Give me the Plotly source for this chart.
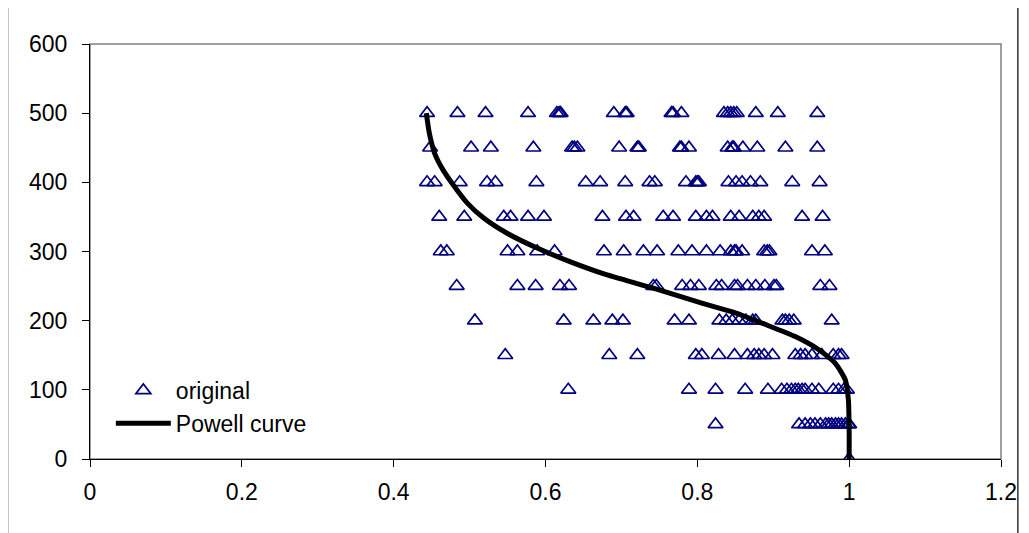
import plotly.graph_objects as go

# Observed points: one list of x-values per depth level (y)
levels = [500, 450, 400, 350, 300, 250, 200, 150, 100, 50, 0]
x_500 = [0.444, 0.484, 0.521, 0.577, 0.615, 0.618, 0.620, 0.690, 0.705, 0.707, 0.766, 0.768, 0.779,
         0.835, 0.840, 0.844, 0.848, 0.852, 0.877, 0.906, 0.958]
x_450 = [0.448, 0.502, 0.528, 0.584, 0.635, 0.638, 0.642, 0.697, 0.721, 0.723, 0.777, 0.779, 0.789,
         0.840, 0.846, 0.848, 0.860, 0.879, 0.916, 0.958]
x_400 = [0.444, 0.454, 0.487, 0.523, 0.534, 0.588, 0.653, 0.672, 0.705, 0.737, 0.744, 0.785, 0.798,
         0.800, 0.802, 0.841, 0.851, 0.859, 0.870, 0.883, 0.925, 0.961]
x_350 = [0.460, 0.493, 0.545, 0.554, 0.577, 0.598, 0.675, 0.706, 0.716, 0.755, 0.768, 0.798, 0.812,
         0.820, 0.844, 0.855, 0.873, 0.881, 0.888, 0.938, 0.965]
x_300 = [0.462, 0.470, 0.550, 0.563, 0.589, 0.612, 0.677, 0.703, 0.729, 0.747, 0.775, 0.793, 0.812,
         0.830, 0.844, 0.849, 0.851, 0.859, 0.888, 0.892, 0.895, 0.951, 0.968]
x_250 = [0.483, 0.563, 0.587, 0.619, 0.631, 0.742, 0.746, 0.780, 0.791, 0.802, 0.825, 0.832, 0.849,
         0.853, 0.866, 0.877, 0.889, 0.901, 0.904, 0.962, 0.974]
x_200 = [0.507, 0.624, 0.663, 0.688, 0.702, 0.770, 0.789, 0.829, 0.838, 0.846, 0.855, 0.864, 0.873,
         0.877, 0.912, 0.916, 0.921, 0.927, 0.977]
x_150 = [0.547, 0.684, 0.721, 0.798, 0.806, 0.828, 0.849, 0.866, 0.875, 0.881, 0.888, 0.899, 0.929,
         0.936, 0.942, 0.951, 0.964, 0.979, 0.986, 0.990]
x_100 = [0.630, 0.789, 0.824, 0.863, 0.893, 0.911, 0.918, 0.924, 0.929, 0.933, 0.938, 0.942, 0.951,
         0.960, 0.979, 0.986, 0.993, 0.997]
x_50 = [0.824, 0.934, 0.942, 0.949, 0.955, 0.962, 0.969, 0.973, 0.977, 0.982, 0.986, 0.990, 0.995,
        0.999, 1.0]
x_0 = [1.0]
rows = [x_500, x_450, x_400, x_350, x_300, x_250, x_200, x_150, x_100, x_50, x_0]

# Powell curve
curve_x = [0.443, 0.447, 0.454, 0.465, 0.480, 0.497, 0.519, 0.550, 0.589, 0.633, 0.676, 0.742,
           0.807, 0.851, 0.886, 0.929, 0.960, 0.982, 0.995, 0.999, 1.0, 1.0]
curve_y = [500, 471, 442, 418, 394, 370, 348, 326, 305, 285, 268, 247,
           225, 211, 196, 177, 158, 138, 114, 85, 37, 0]

pts_x, pts_y = [], []
for lvl, xs in zip(levels, rows):
    pts_x += xs
    pts_y += [lvl] * len(xs)

FONT = "Liberation Sans, Arial, sans-serif"
FS = 23

fig = go.Figure()
fig.add_trace(go.Scatter(
    x=pts_x, y=pts_y, mode="markers", name="original", legendgroup="a",
    marker=dict(symbol="triangle-up-open", size=13, color="#000080",
                line=dict(width=1.7, color="#000080")),
))
fig.add_trace(go.Scatter(
    x=curve_x, y=curve_y, mode="lines", name="Powell curve", legendgroup="b",
    line=dict(color="black", width=5, shape="spline", smoothing=0.6),
))

# page body has an 8px margin in the browser
OFF = 8
W, H = 1029 - OFF, 533 - OFF
L, R, T, B = 90 - OFF, 1008 - OFF, 44 - OFF, 459 - OFF
pw, ph = R - L, B - T

def px(xp):
    return (xp - OFF - L) / pw

def py(yp):
    return (B - (yp - OFF)) / ph

shapes = [
    dict(type="rect", xref="paper", yref="paper", x0=0, x1=1, y0=0, y1=1,
         line=dict(color="#808080", width=1.5), layer="below"),
    dict(type="rect", xref="paper", yref="paper", x0=px(7), x1=px(1025), y0=py(580), y1=py(5),
         line=dict(color="black", width=1.2), layer="below"),
]

fig.update_layout(
    width=W, height=H,
    margin=dict(l=L, r=W - R, t=T, b=H - B, pad=0),
    paper_bgcolor="white", plot_bgcolor="white",
    font=dict(family=FONT, size=FS, color="black"),
    showlegend=True,
    legend=dict(x=px(111), y=py(369), xanchor="left", yanchor="top",
                bgcolor="rgba(0,0,0,0)", font=dict(size=FS, family=FONT),
                itemwidth=55, tracegroupgap=12, traceorder="normal"),
    shapes=shapes,
    xaxis=dict(range=[0, 1.2], dtick=0.2, tick0=0, showgrid=False, zeroline=False,
               showline=True, linecolor="black", linewidth=1,
               ticks="outside", ticklen=7, tickcolor="black",
               tickfont=dict(size=FS, family=FONT), ticklabelstandoff=5),
    yaxis=dict(range=[0, 600], dtick=100, tick0=0, showgrid=False, zeroline=False,
               showline=True, linecolor="black", linewidth=1,
               ticks="outside", ticklen=7, tickcolor="black",
               tickfont=dict(size=FS, family=FONT), ticklabelstandoff=10),
)

fig.write_html("out.html")
